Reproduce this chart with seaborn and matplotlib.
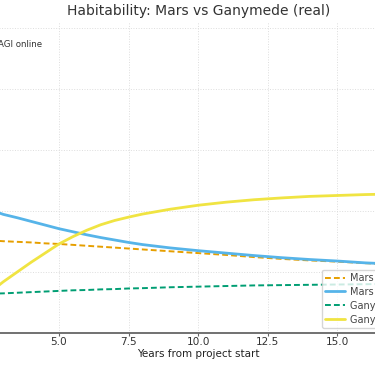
import matplotlib
matplotlib.use("Agg")
import matplotlib.pyplot as plt
import seaborn as sns
import pandas as pd

# values (years vs habitability index)
years = [2, 2.5, 3, 3.5, 4, 4.5, 5, 5.5, 6, 6.5, 7, 7.5, 8,
         9, 10, 11, 12, 13, 14, 15, 16, 17, 18, 19, 20]
mars_hype = [0.306, 0.304, 0.301, 0.299, 0.297, 0.294, 0.292, 0.289, 0.286, 0.283, 0.280, 0.277, 0.274,
             0.268, 0.262, 0.256, 0.249, 0.243, 0.238, 0.234, 0.229, 0.225, 0.221, 0.217, 0.213]
mars_real = [0.420, 0.405, 0.389, 0.378, 0.366, 0.354, 0.342, 0.332, 0.322, 0.313, 0.305, 0.297, 0.290,
             0.279, 0.270, 0.262, 0.254, 0.247, 0.241, 0.236, 0.230, 0.226, 0.222, 0.218, 0.215]
gany_hype = [0.127, 0.129, 0.130, 0.132, 0.134, 0.136, 0.138, 0.140, 0.141, 0.143, 0.144, 0.146, 0.147,
             0.150, 0.152, 0.154, 0.156, 0.157, 0.158, 0.159, 0.160, 0.161, 0.162, 0.163, 0.163]
gany_real = [0.095, 0.132, 0.168, 0.200, 0.232, 0.262, 0.292, 0.316, 0.337, 0.355, 0.369, 0.380, 0.390,
             0.406, 0.419, 0.429, 0.437, 0.443, 0.448, 0.451, 0.454, 0.456, 0.458, 0.459, 0.460]
series_names = ["Mars - hype", "Mars - real", "Ganymede - hype", "Ganymede - real"]
agi_year = 2.5

colors = ["#E69F00", "#56B4E9", "#009E73", "#F0E442"]
dashes = [(3, 1.6), "", (3, 1.6), ""]
widths = [1.4, 2.0, 1.4, 2.0]

sns.set_theme(style="whitegrid")
plt.rcParams["font.family"] = ["DejaVu Sans"]

fig = plt.figure(figsize=(3.75, 3.66), dpi=100)
# axes deliberately wider than the figure: the reference is a crop
ax = fig.add_axes([-0.2139, 0.0902, 1.4848, 0.8497])

df = pd.DataFrame({"year": years, series_names[0]: mars_hype, series_names[1]: mars_real,
                   series_names[2]: gany_hype, series_names[3]: gany_real})
long = df.melt(id_vars="year", var_name="series", value_name="value")

for name, col, d, w in zip(series_names, colors, dashes, widths):
    sub = long[long["series"] == name]
    sns.lineplot(data=sub, x="year", y="value", ax=ax, color=col, lw=w, label=name)
    if d:
        ax.lines[-1].set_dashes(d)

ax.axvline(agi_year, color="#888888", lw=1, ls="--")
ax.text(agi_year + 0.3, 0.947, "AGI online", fontsize=6.2, color="#333333", va="center")

ax.set_xlim(0, 20)
ax.set_ylim(0, 1.02)
ax.set_xticks([0, 2.5, 5, 7.5, 10, 12.5, 15, 17.5, 20])
ax.set_yticks([0, 0.2, 0.4, 0.6, 0.8, 1.0])
ax.grid(True, ls=":", color="#dddddd", lw=0.7)
for s in ["top", "right", "left"]:
    ax.spines[s].set_visible(False)
ax.spines["bottom"].set_color("#666666")
ax.spines["bottom"].set_linewidth(1.3)
ax.tick_params(axis="x", bottom=True, length=2, width=0.8, color="#666666",
               labelsize=7.6, labelcolor="#333333", pad=1.2)
ax.tick_params(axis="y", labelsize=7.6, labelcolor="#333333")

ax.set_xlabel("Years from project start", fontsize=7.5, color="#222222", labelpad=1)
ax.set_ylabel("Habitability index", fontsize=7.5)
ax.set_title("Habitability: Mars vs Ganymede (real)", fontsize=10, color="#333333", pad=5)

leg = ax.legend(loc="lower left", bbox_to_anchor=(322 / 375, (366 - 328) / 366),
                bbox_transform=fig.transFigure, borderaxespad=0, fontsize=7.0,
                frameon=True, labelspacing=0.4, handlelength=2.0, handletextpad=0.5,
                borderpad=0.35)
leg.get_frame().set_edgecolor("#cccccc")
for t in leg.get_texts():
    t.set_color("#444444")

fig.savefig("out.png", dpi=100)
